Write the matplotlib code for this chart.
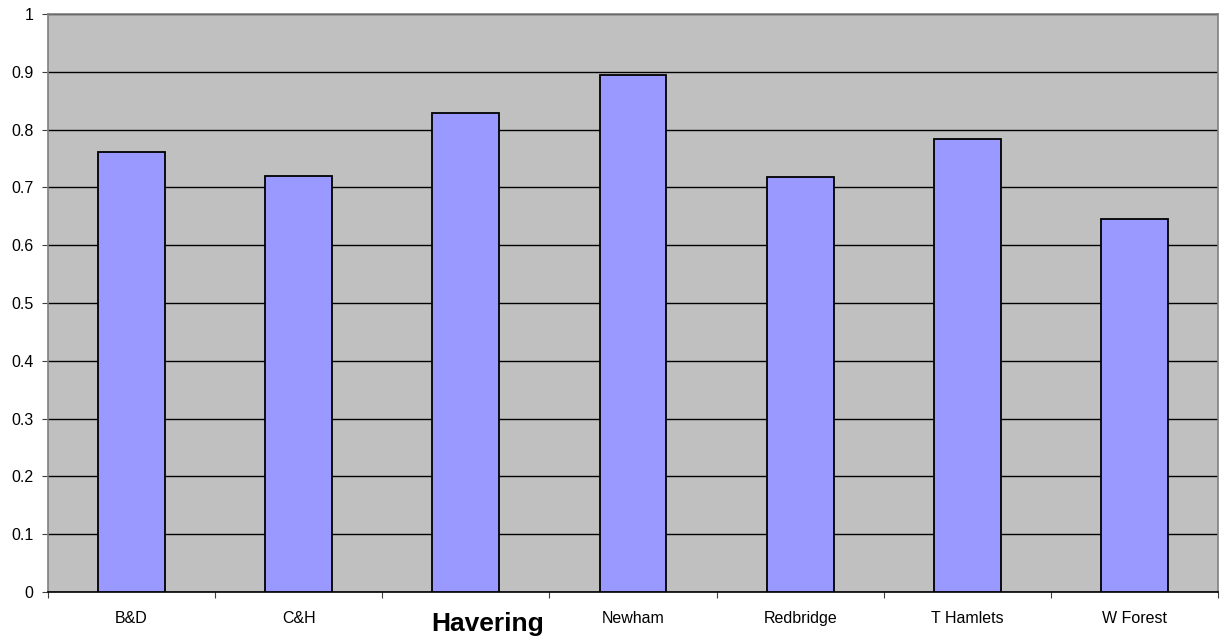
import numpy as np
import matplotlib
matplotlib.use("Agg")
import matplotlib.pyplot as plt
from matplotlib.transforms import blended_transform_factory

plt.rcParams['font.family'] = ['Liberation Sans', 'DejaVu Sans']

boroughs = ["B&D", "C&H", "Havering", "Newham", "Redbridge", "T Hamlets", "W Forest"]
values = [0.762, 0.719, 0.829, 0.894, 0.718, 0.784, 0.645]
y_ticks = [0, 0.1, 0.2, 0.3, 0.4, 0.5, 0.6, 0.7, 0.8, 0.9, 1]
y_labels = ["0", "0.1", "0.2", "0.3", "0.4", "0.5", "0.6", "0.7", "0.8", "0.9", "1"]


def main():
    fig = plt.figure(figsize=(12.24, 6.39), dpi=100)
    ax = fig.add_axes([48 / 1224, 1 - 592 / 639, (1218 - 48) / 1224, (592 - 14) / 639])
    ax.set_facecolor("#C0C0C0")

    x = np.arange(len(boroughs))
    ax.bar(x, values, width=0.4, color="#9999FF", edgecolor="black", linewidth=1.3, zorder=3)

    ax.set_xlim(-0.5, len(boroughs) - 0.5)
    ax.set_ylim(0, 1)

    # gridlines
    ax.set_yticks(y_ticks)
    ax.set_yticklabels(y_labels, fontsize=11.5)
    ax.yaxis.grid(True, color="black", linewidth=1.0, zorder=1)
    ax.set_axisbelow(True)

    # ticks between categories, labels at centres
    ax.set_xticks(np.arange(-0.5, len(boroughs)), minor=False)
    ax.set_xticklabels([])
    ax.set_xticks(x, minor=True)
    ax.set_xticklabels([b if b != "Havering" else "" for b in boroughs], minor=True, fontsize=11.5)
    ax.tick_params(axis="x", which="minor", length=0, pad=13.5)
    ax.tick_params(axis="x", which="major", length=4.3, direction="out", color="#404040")
    ax.tick_params(axis="y", length=4.3, direction="out", pad=6, color="#404040")

    trans = blended_transform_factory(ax.transData, ax.transAxes)
    ax.text(2 + 0.13, -0.056, "Havering", transform=trans, ha="center", va="center",
            fontsize=19, fontweight="bold")

    for side in ["top", "right", "left"]:
        ax.spines[side].set_color("#808080")
        ax.spines[side].set_linewidth(1.2)
    ax.spines["bottom"].set_color("black")
    ax.spines["bottom"].set_linewidth(1.2)

    fig.savefig("out.png", dpi=100, facecolor="white")


if __name__ == "__main__":
    main()
